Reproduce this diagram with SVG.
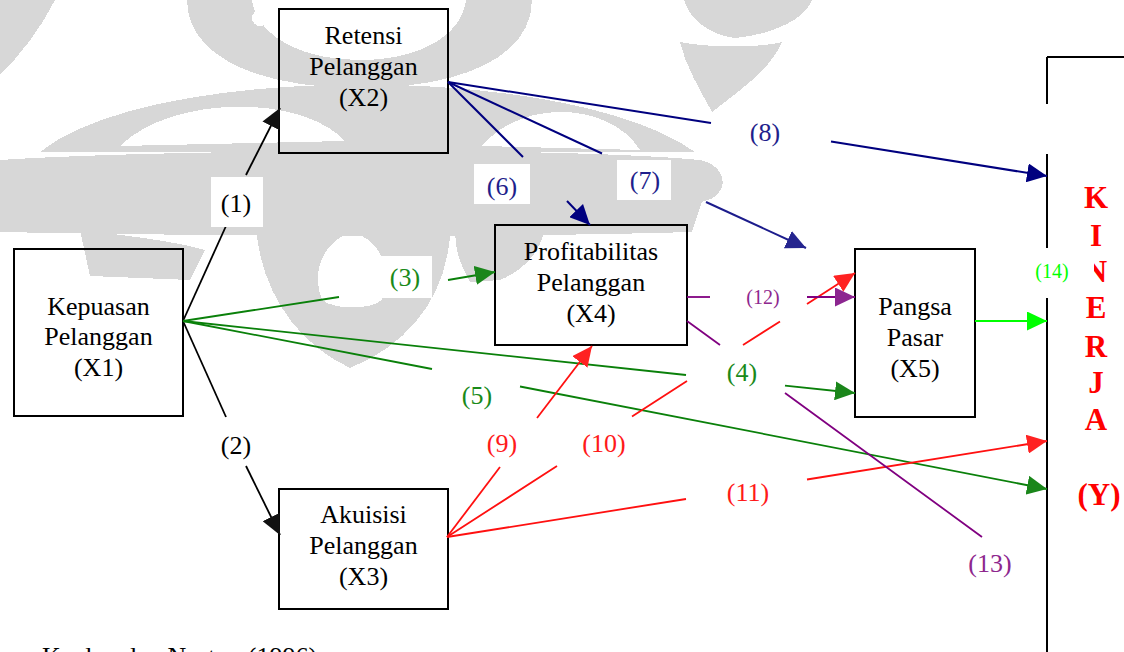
<svg xmlns="http://www.w3.org/2000/svg" width="1124" height="652" viewBox="0 0 1124 652">
  <style>
    .node rect { fill: none; stroke: #000; stroke-width: 2; }
    .node text { font-family: "Liberation Serif", "Times New Roman", serif; font-size: 26px; fill: #000; text-anchor: middle; }
    .lbl rect { fill: #fff; stroke: none; }
    .lbl text { font-family: "Liberation Serif", "Times New Roman", serif; font-size: 26px; text-anchor: middle; }
    .lbl .small { font-size: 20px; }
    .edge { fill: none; stroke-width: 1.8; }
    .k { stroke: #000; }
    .nv { stroke: #00007f; stroke-width: 2; }
    .nv2 { stroke: #1c1c8c; stroke-width: 2; }
    .gr { stroke: #0a800a; }
    .rd { stroke: #ff1010; }
    .pu { stroke: #800080; }
    .lm { stroke: #00ff00; }
    .wm { fill: #d7d7d7; fill-rule: evenodd; }
    .kin { font-family: "Liberation Serif", "Times New Roman", serif; font-size: 31px; font-weight: bold; fill: #ff0000; text-anchor: middle; }
    .src { font-family: "Liberation Serif", "Times New Roman", serif; font-size: 26px; fill: #000; }
  </style>
  <defs>
    <marker id="ah-k" markerUnits="userSpaceOnUse" markerWidth="20" markerHeight="19" refX="20" refY="9.5" orient="auto"><path d="M0,0 L20,9.5 L0,19 Z" fill="#111"/></marker>
    <marker id="ah-nv" markerUnits="userSpaceOnUse" markerWidth="20" markerHeight="19" refX="20" refY="9.5" orient="auto"><path d="M0,0 L20,9.5 L0,19 Z" fill="#00007f"/></marker>
    <marker id="ah-nv2" markerUnits="userSpaceOnUse" markerWidth="20" markerHeight="19" refX="20" refY="9.5" orient="auto"><path d="M0,0 L20,9.5 L0,19 Z" fill="#25258f"/></marker>
    <marker id="ah-gr" markerUnits="userSpaceOnUse" markerWidth="20" markerHeight="19" refX="20" refY="9.5" orient="auto"><path d="M0,0 L20,9.5 L0,19 Z" fill="#1a861a"/></marker>
    <marker id="ah-rd" markerUnits="userSpaceOnUse" markerWidth="20" markerHeight="19" refX="20" refY="9.5" orient="auto"><path d="M0,0 L20,9.5 L0,19 Z" fill="#ff2222"/></marker>
    <marker id="ah-pu" markerUnits="userSpaceOnUse" markerWidth="20" markerHeight="19" refX="20" refY="9.5" orient="auto"><path d="M0,0 L20,9.5 L0,19 Z" fill="#8c2690"/></marker>
    <marker id="ah-lm" markerUnits="userSpaceOnUse" markerWidth="20" markerHeight="19" refX="20" refY="9.5" orient="auto"><path d="M0,0 L20,9.5 L0,19 Z" fill="#00ff00"/></marker>
  </defs>

  <rect width="1124" height="652" fill="#fff"/>

  <!-- faint background emblem -->
  <g id="emblem" shape-rendering="crispEdges">
    <path class="wm" d="M187,0 C187,55 255,88 360,88 C465,88 532,55 532,0 Z M252,0 C256,35 300,60 360,60 C420,60 462,35 466,0 Z"/>
    <circle cx="260" cy="18" r="8" fill="#fff"/>
    <path class="wm" d="M40,152 C150,62 570,62 695,152 Z M120,146 C170,96 300,93 345,141 Z M482,146 C522,98 610,102 640,150 Z"/>
    <path class="wm" d="M0,160 C150,150 550,146 700,160 C728,165 732,196 702,202 L692,232 C500,238 200,236 0,232 Z"/>
    <path class="wm" d="M80,230 C120,235 170,240 205,250 L190,280 L90,276 Z"/>
    <path class="wm" d="M255,210 L450,210 C455,280 420,340 350,368 C290,340 255,280 255,210 Z M322,300 C310,270 325,240 352,232 C382,240 392,270 382,300 C370,310 335,310 322,300 Z"/>
    <path class="wm" d="M455,230 L545,228 C540,255 520,272 500,280 L470,282 C460,265 455,250 455,230 Z"/>
    <path class="wm" d="M684,0 L812,0 C805,20 770,35 735,38 C710,35 690,20 684,0 Z"/>
    <path class="wm" d="M680,42 C710,48 760,48 782,42 C770,70 740,90 712,112 C700,90 685,65 680,42 Z"/>
    <path class="wm" d="M0,0 L55,0 C40,30 20,55 0,75 Z"/>
  </g>

  <!-- nodes -->
  <g id="x1" class="node">
    <rect x="14" y="249" width="169" height="167"/>
    <text x="98.5" y="315">Kepuasan</text>
    <text x="98.5" y="345">Pelanggan</text>
    <text x="98.5" y="376">(X1)</text>
  </g>
  <g id="x2" class="node">
    <rect x="279" y="9" width="169" height="144"/>
    <text x="363.5" y="44">Retensi</text>
    <text x="363.5" y="75">Pelanggan</text>
    <text x="363.5" y="106">(X2)</text>
  </g>
  <g id="x3" class="node">
    <rect x="279" y="489" width="169" height="120"/>
    <text x="363.5" y="523">Akuisisi</text>
    <text x="363.5" y="554">Pelanggan</text>
    <text x="363.5" y="585">(X3)</text>
  </g>
  <g id="x4" class="node">
    <rect x="495" y="225" width="192" height="120"/>
    <text x="591" y="260">Profitabilitas</text>
    <text x="591" y="291">Pelanggan</text>
    <text x="591" y="322">(X4)</text>
  </g>
  <g id="x5" class="node">
    <rect x="855" y="249" width="120" height="168"/>
    <text x="915" y="315">Pangsa</text>
    <text x="915" y="346">Pasar</text>
    <text x="915" y="377">(X5)</text>
  </g>

  <!-- performance bracket -->
  <g id="y">
    <path d="M1047,57 H1124 M1047,57 V104 M1047,154 V248 M1047,298 V652" fill="none" stroke="#000" stroke-width="2"/>
    <text class="kin" x="1096" y="208">K</text>
    <text class="kin" x="1096" y="246">I</text>
    <text class="kin" x="1096" y="282">N</text>
    <text class="kin" x="1096" y="318">E</text>
    <text class="kin" x="1096" y="357">R</text>
    <text class="kin" x="1096" y="393">J</text>
    <text class="kin" x="1096" y="430">A</text>
    <text class="kin" x="1099" y="505">(Y)</text>
  </g>

  <!-- connectors, broken where their numbers sit -->
  <g id="edges">
    <path class="edge k" d="M183,321 L226,226"/>
    <path class="edge k" d="M246,175 L280,108" marker-end="url(#ah-k)"/>
    <path class="edge k" d="M183,321 L226,417"/>
    <path class="edge k" d="M246,466 L280,535" marker-end="url(#ah-k)"/>
    <path class="edge gr" d="M183,321 L339,297"/>
    <path class="edge gr" d="M448,280 L495,272" marker-end="url(#ah-gr)"/>
    <path class="edge gr" d="M183,321 L686,375"/>
    <path class="edge gr" d="M785,385.6 L855,393" marker-end="url(#ah-gr)"/>
    <path class="edge gr" d="M183,321 L432,369"/>
    <path class="edge gr" d="M520,386.5 L1047,489" marker-end="url(#ah-gr)"/>
    <path class="edge nv" d="M448,82 L523,157"/>
    <path class="edge nv" d="M567,201 L590,225" marker-end="url(#ah-nv)"/>
    <path class="edge nv" d="M448,82 L602,153.5"/>
    <path class="edge nv2" d="M706,202 L806,248" marker-end="url(#ah-nv2)"/>
    <path class="edge nv" d="M448,82 L711,123"/>
    <path class="edge nv" d="M831,141.5 L1047,176" marker-end="url(#ah-nv)"/>
    <path class="edge rd" d="M447,537 L500,467"/>
    <path class="edge rd" d="M537,418 L592,346" marker-end="url(#ah-rd)"/>
    <path class="edge rd" d="M447,537 L557,466 M632,416.5 L687,381 M743,345 L780,321.5"/>
    <path class="edge rd" d="M807,304 L855,273" marker-end="url(#ah-rd)"/>
    <path class="edge rd" d="M447,537 L686,499"/>
    <path class="edge rd" d="M807,479.5 L1047,441" marker-end="url(#ah-rd)"/>
    <path class="edge pu" d="M687,297 L710,297"/>
    <path class="edge pu" d="M807,297 L855,297" marker-end="url(#ah-pu)"/>
    <path class="edge pu" d="M687,321 L720,345 M785,393 L982,537"/>
    <path class="edge lm" d="M975,321 L1047,321" marker-end="url(#ah-lm)"/>
  </g>

  <!-- path numbers -->
  <g id="labels" class="lbl">
    <rect x="211" y="177" width="52" height="50"/><text x="236" y="212" fill="#000">(1)</text>
    <text x="236" y="454" fill="#000">(2)</text>
    <rect x="380" y="256" width="52" height="42"/><text x="405" y="286" fill="#1a8a1a">(3)</text>
    <text x="742" y="381" fill="#1a8a1a">(4)</text>
    <text x="477" y="404" fill="#1a8a1a">(5)</text>
    <rect x="474" y="164" width="56" height="40"/><text x="502" y="195" fill="#1f1f8c">(6)</text>
    <rect x="617" y="160" width="54" height="40"/><text x="645" y="189" fill="#1f1f8c">(7)</text>
    <text x="765" y="141" fill="#1f1f8c">(8)</text>
    <text x="502" y="452" fill="#ff1a1a">(9)</text>
    <text x="604" y="452" fill="#ff1a1a">(10)</text>
    <text x="748" y="501" fill="#ff1a1a">(11)</text>
    <text class="small" x="763" y="304" fill="#8e278e">(12)</text>
    <text x="990" y="572" fill="#8e278e">(13)</text>
    <rect x="1030" y="249" width="64" height="48"/><text class="small" x="1052" y="278" fill="#00ff00">(14)</text>
  </g>

  <text class="src" x="42" y="665">Kaplan dan Norton (1996)</text>
</svg>
